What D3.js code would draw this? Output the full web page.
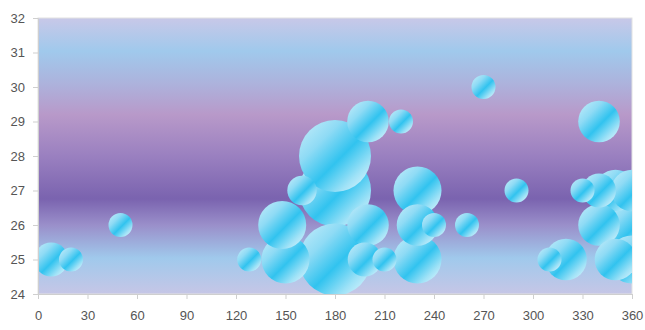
<!DOCTYPE html>
<html>
<head>
<meta charset="utf-8">
<script src="https://cdn.jsdelivr.net/npm/d3@7"></script>
<style>
  html, body { margin: 0; padding: 0; background: #ffffff; }
  svg { display: block; }
  .tick text { font-family: "Liberation Sans", Arial, sans-serif; font-size: 13px; fill: #555555; }
</style>
</head>
<body>
<svg id="chart" width="645" height="330"></svg>
<script>
// Bubble data: angle (x), value (y), relative bubble size
const angles = [8, 20, 50, 128, 150, 148, 160, 180, 180, 180, 200, 220, 200, 198, 210,
                230, 230, 240, 230, 260, 270, 290, 340, 310, 320, 330, 340, 350, 360, 340, 360, 350, 360];
const values = [25, 25, 26, 25, 25, 26, 27, 27, 28, 25, 29, 29, 26, 25, 25,
                27, 26, 26, 25, 26, 30, 27, 29, 25, 25, 27, 27, 27, 27, 26, 26, 25, 25];
const sizes  = [2, 1, 1, 1, 4, 4, 1.5, 9, 9, 9, 3, 1, 3, 2, 1,
                4, 3, 1, 4, 1, 1, 1, 3, 1, 3, 1, 2, 3, 3, 3, 4, 3, 4];

const xTicks = [0, 30, 60, 90, 120, 150, 180, 210, 240, 270, 300, 330, 360];
const yTicks = [24, 25, 26, 27, 28, 29, 30, 31, 32];

const svg = d3.select("#chart");
const margin = { left: 38, right: 13, top: 18, bottom: 36 };
const W = 645, H = 330;
const innerW = W - margin.left - margin.right;
const innerH = H - margin.top - margin.bottom;

const x = d3.scaleLinear().domain([0, 360]).range([0, innerW]);
const y = d3.scaleLinear().domain([24, 32]).range([innerH, 0]);
const r = d3.scaleSqrt().domain([0, 9]).range([0, 36]);

const defs = svg.append("defs");

// Banded background of the plot area
const bg = defs.append("linearGradient")
  .attr("id", "plotBg").attr("x1", 0).attr("y1", 0).attr("x2", 0).attr("y2", 1);
[[0, "#c8c8e8"], [0.12, "#a0c9ec"], [0.24, "#adb2dc"], [0.35, "#b899c9"],
 [0.5, "#9a80c0"], [0.655, "#7a63af"], [0.75, "#9a8fca"], [0.87, "#a0c9ec"], [1, "#c6c6e6"]]
  .forEach(([o, c]) => bg.append("stop").attr("offset", o).attr("stop-color", c));

// Diagonal shading used on every bubble
const bub = defs.append("linearGradient")
  .attr("id", "bubbleFill").attr("x1", 0).attr("y1", 0).attr("x2", 1).attr("y2", 1);
[[0, "#c9eefa"], [0.3, "#8fdbf5"], [0.55, "#31c3ef"], [0.78, "#9fe2f7"], [1, "#eefaff"]]
  .forEach(([o, c]) => bub.append("stop").attr("offset", o).attr("stop-color", c));

defs.append("clipPath").attr("id", "plotClip")
  .append("rect").attr("width", innerW).attr("height", innerH);

const g = svg.append("g").attr("transform", `translate(${margin.left},${margin.top})`);

g.append("rect")
  .attr("width", innerW).attr("height", innerH)
  .attr("fill", "url(#plotBg)")
  .attr("stroke", "#e2e2e2").attr("stroke-width", 1);

// Larger bubbles go underneath smaller ones
const data = angles.map((a, i) => ({ a, v: values[i], s: sizes[i] }))
  .sort((p, q) => q.s - p.s);

g.append("g").attr("clip-path", "url(#plotClip)")
  .selectAll("circle").data(data).join("circle")
  .attr("cx", d => x(d.a))
  .attr("cy", d => y(d.v))
  .attr("r", d => r(d.s))
  .attr("fill", "url(#bubbleFill)");

const xAxis = g.append("g").attr("transform", `translate(0,${innerH})`)
  .call(d3.axisBottom(x).tickValues(xTicks).tickSize(5).tickPadding(12));
const yAxis = g.append("g")
  .call(d3.axisLeft(y).tickValues(yTicks).tickSize(5).tickPadding(8));

[xAxis, yAxis].forEach(ax => {
  ax.select(".domain").attr("stroke", "#cfcfcf");
  ax.selectAll(".tick line").attr("stroke", "#cfcfcf");
});
</script>
</body>
</html>
